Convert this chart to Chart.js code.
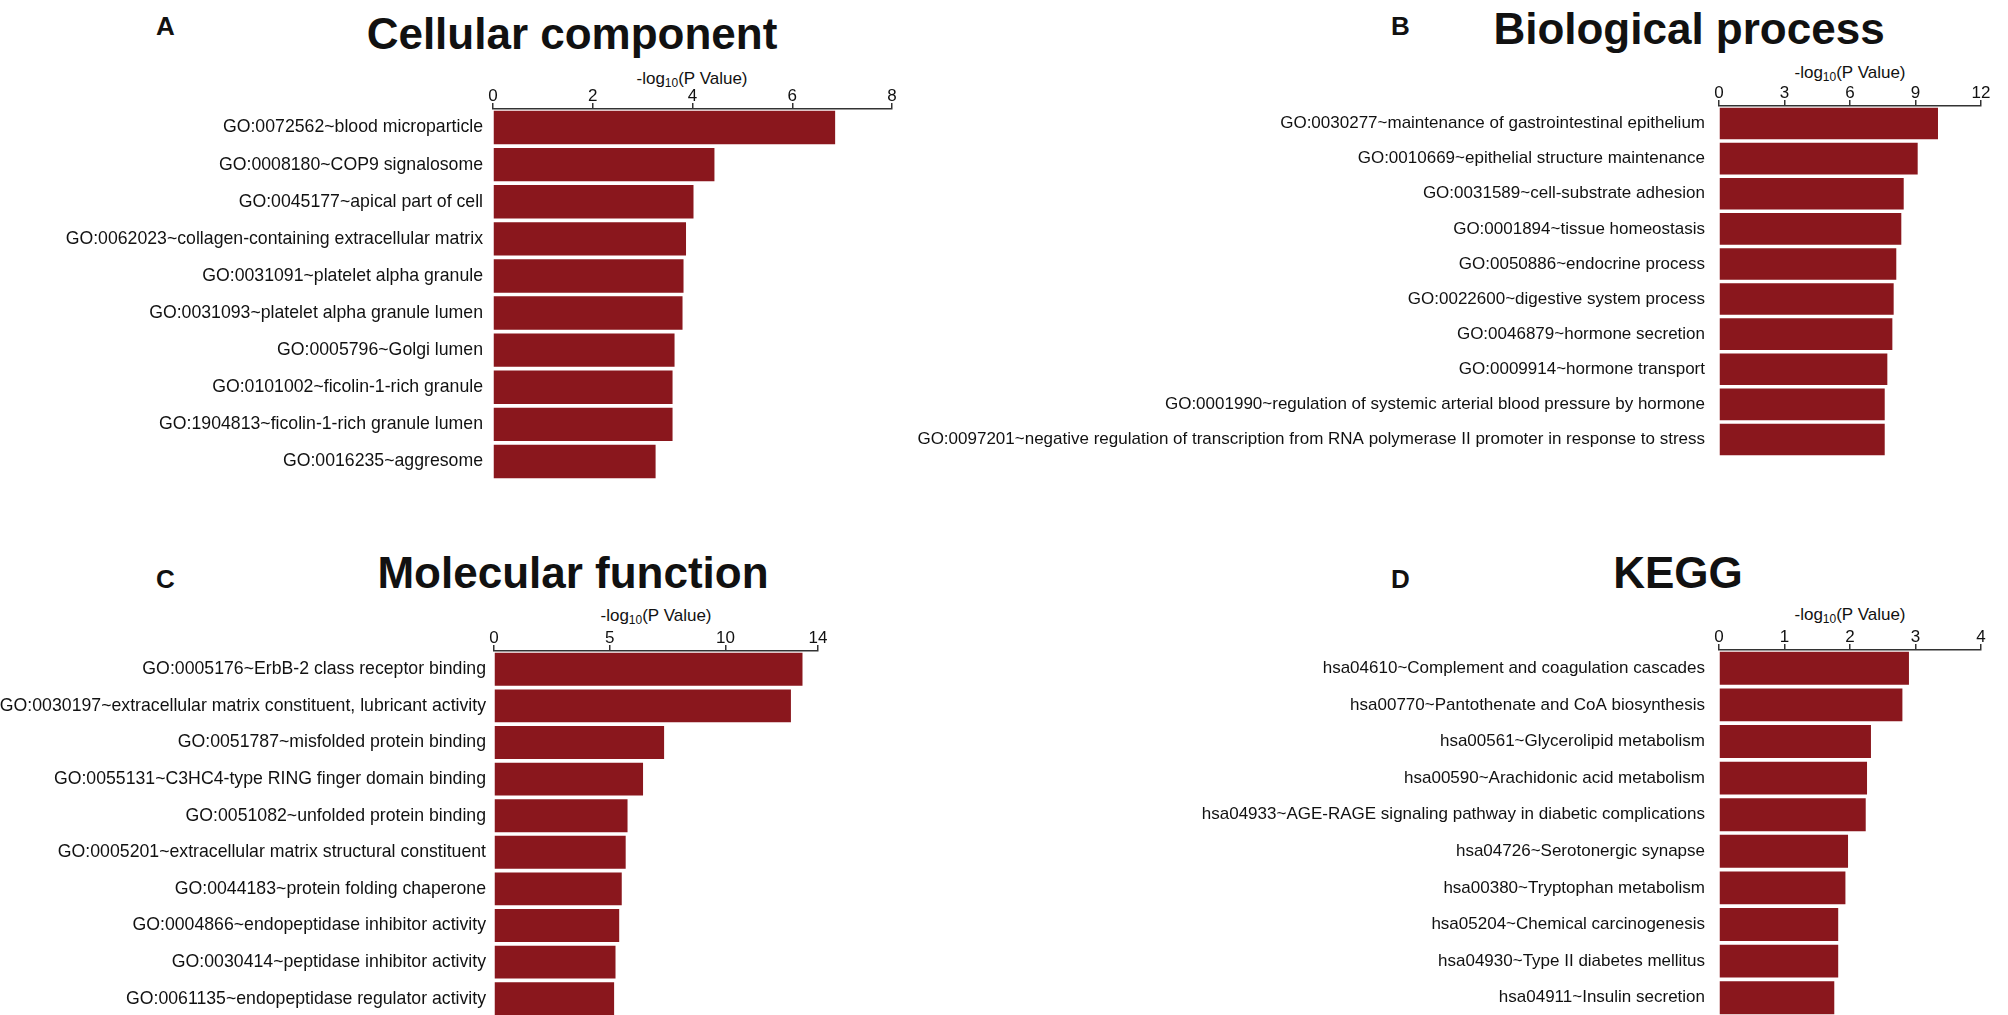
<!DOCTYPE html>
<html>
<head>
<meta charset="utf-8">
<script src="https://cdn.jsdelivr.net/npm/chart.js@4.4.1/dist/chart.umd.min.js"></script>
<style>
  html, body { margin: 0; padding: 0; background: #fff; width: 2008px; height: 1015px; overflow: hidden; }
  body { position: relative; font-family: "Liberation Sans", Arial, Helvetica, sans-serif; color: #111; }
  canvas { position: absolute; }
  .txt { position: absolute; white-space: nowrap; line-height: 1; }
  .letter { font-size: 26px; font-weight: bold; }
  .title { font-size: 44px; font-weight: bold; transform: translateX(-50%); }
  .axt { font-size: 17px; transform: translateX(-50%); }
  .axt sub { font-size: 12px; vertical-align: -3px; line-height: 0; }
</style>
</head>
<body>
<div class="txt letter" style="left:156px;top:13px">A</div>
<div class="txt letter" style="left:1391px;top:13px">B</div>
<div class="txt letter" style="left:156px;top:566px">C</div>
<div class="txt letter" style="left:1391px;top:566px">D</div>

<div class="txt title" style="left:572px;top:12px">Cellular component</div>
<div class="txt title" style="left:1689px;top:7px">Biological process</div>
<div class="txt title" style="left:573px;top:551px">Molecular function</div>
<div class="txt title" style="left:1678px;top:551px">KEGG</div>

<div class="txt axt" style="left:692px;top:70px">-log<sub>10</sub>(P Value)</div>
<div class="txt axt" style="left:1850px;top:64px">-log<sub>10</sub>(P Value)</div>
<div class="txt axt" style="left:656px;top:607px">-log<sub>10</sub>(P Value)</div>
<div class="txt axt" style="left:1850px;top:606px">-log<sub>10</sub>(P Value)</div>

<canvas id="ccChart"></canvas>
<canvas id="bpChart"></canvas>
<canvas id="mfChart"></canvas>
<canvas id="keggChart"></canvas>

<script>
const ccLabels = [
    'GO:0072562~blood microparticle',
    'GO:0008180~COP9 signalosome',
    'GO:0045177~apical part of cell',
    'GO:0062023~collagen-containing extracellular matrix',
    'GO:0031091~platelet alpha granule',
    'GO:0031093~platelet alpha granule lumen',
    'GO:0005796~Golgi lumen',
    'GO:0101002~ficolin-1-rich granule',
    'GO:1904813~ficolin-1-rich granule lumen',
    'GO:0016235~aggresome'
];
const ccValues = [6.86, 4.44, 4.02, 3.87, 3.82, 3.80, 3.64, 3.60, 3.60, 3.26];

const bpLabels = [
    'GO:0030277~maintenance of gastrointestinal epithelium',
    'GO:0010669~epithelial structure maintenance',
    'GO:0031589~cell-substrate adhesion',
    'GO:0001894~tissue homeostasis',
    'GO:0050886~endocrine process',
    'GO:0022600~digestive system process',
    'GO:0046879~hormone secretion',
    'GO:0009914~hormone transport',
    'GO:0001990~regulation of systemic arterial blood pressure by hormone',
    'GO:0097201~negative regulation of transcription from RNA polymerase II promoter in response to stress'
];
const bpValues = [10.03, 9.10, 8.46, 8.35, 8.12, 8.00, 7.94, 7.71, 7.59, 7.59];

const mfLabels = [
    'GO:0005176~ErbB-2 class receptor binding',
    'GO:0030197~extracellular matrix constituent, lubricant activity',
    'GO:0051787~misfolded protein binding',
    'GO:0055131~C3HC4-type RING finger domain binding',
    'GO:0051082~unfolded protein binding',
    'GO:0005201~extracellular matrix structural constituent',
    'GO:0044183~protein folding chaperone',
    'GO:0004866~endopeptidase inhibitor activity',
    'GO:0030414~peptidase inhibitor activity',
    'GO:0061135~endopeptidase regulator activity'
];
const mfValues = [13.33, 12.83, 7.35, 6.44, 5.77, 5.69, 5.52, 5.41, 5.25, 5.19];

const keggLabels = [
    'hsa04610~Complement and coagulation cascades',
    'hsa00770~Pantothenate and CoA biosynthesis',
    'hsa00561~Glycerolipid metabolism',
    'hsa00590~Arachidonic acid metabolism',
    'hsa04933~AGE-RAGE signaling pathway in diabetic complications',
    'hsa04726~Serotonergic synapse',
    'hsa00380~Tryptophan metabolism',
    'hsa05204~Chemical carcinogenesis',
    'hsa04930~Type II diabetes mellitus',
    'hsa04911~Insulin secretion'
];
const keggValues = [2.90, 2.80, 2.32, 2.26, 2.24, 1.97, 1.93, 1.82, 1.82, 1.76];

const ccTicks = [0, 2, 4, 6, 8];
const bpTicks = [0, 3, 6, 9, 12];
const mfTicks = [0, 5, 10, 14];
const keggTicks = [0, 1, 2, 3, 4];

const BAR_COLOR = '#8a171d';
const FONT = '"Liberation Sans", Arial, Helvetica, sans-serif';

Chart.defaults.font.family = FONT;
Chart.defaults.color = '#111';

// g: left edge of canvas, x of value 0 and of axis max, y of axis line, row pitch
function drawPanel(id, labels, values, tickVals, g) {
    const canvas = document.getElementById(id);
    const rightPad = 30;
    const w = g.axisRight + rightPad - g.left;
    const h = 80 + g.pitch * labels.length;
    canvas.width = w;
    canvas.height = h;
    canvas.style.left = g.left + 'px';
    canvas.style.top = (g.axisY - 80) + 'px';
    canvas.style.width = w + 'px';
    canvas.style.height = h + 'px';

    new Chart(canvas, {
        type: 'bar',
        data: {
            labels: labels,
            datasets: [{
                data: values,
                backgroundColor: BAR_COLOR,
                borderWidth: 0,
                barPercentage: 0.9,
                categoryPercentage: 1.0
            }]
        },
        options: {
            indexAxis: 'y',
            responsive: false,
            animation: false,
            devicePixelRatio: 1,
            layout: { padding: { top: 50, right: rightPad, left: 0, bottom: 0 } },
            plugins: {
                legend: { display: false },
                tooltip: { enabled: false }
            },
            scales: {
                x: {
                    position: 'top',
                    min: 0,
                    max: tickVals[tickVals.length - 1],
                    afterBuildTicks: function(scale) {
                        scale.ticks = tickVals.map(v => ({ value: v }));
                    },
                    afterFit: function(scale) { scale.height = 30; },
                    ticks: { font: { size: 17 }, color: '#111', padding: -4, maxRotation: 0 },
                    grid: { drawOnChartArea: false, drawTicks: true, tickLength: 6, color: '#333', lineWidth: 1.5 },
                    border: { display: true, color: '#333', width: 1.5 }
                },
                y: {
                    afterFit: function(scale) {
                        scale.width = g.axisLeft - g.left;
                        // no extra room for half-labels above/below the bars
                        scale.paddingTop = 0;
                        scale.paddingBottom = 0;
                    },
                    ticks: { font: { size: g.labelSize }, color: '#111', padding: g.labelPad },
                    grid: { display: false, drawTicks: false },
                    border: { display: false }
                }
            }
        }
    });
}

drawPanel('ccChart', ccLabels, ccValues, ccTicks,
    { left: 0, axisLeft: 493, axisRight: 892, axisY: 109, pitch: 37.1, labelPad: 10, labelSize: 17.7 });
drawPanel('bpChart', bpLabels, bpValues, bpTicks,
    { left: 880, axisLeft: 1719, axisRight: 1981, axisY: 105.5, pitch: 35.1, labelPad: 14, labelSize: 17 });
drawPanel('mfChart', mfLabels, mfValues, mfTicks,
    { left: 0, axisLeft: 494, axisRight: 818, axisY: 651, pitch: 36.6, labelPad: 8, labelSize: 17.7 });
drawPanel('keggChart', keggLabels, keggValues, keggTicks,
    { left: 880, axisLeft: 1719, axisRight: 1981, axisY: 650, pitch: 36.6, labelPad: 14, labelSize: 17 });
</script>
</body>
</html>
